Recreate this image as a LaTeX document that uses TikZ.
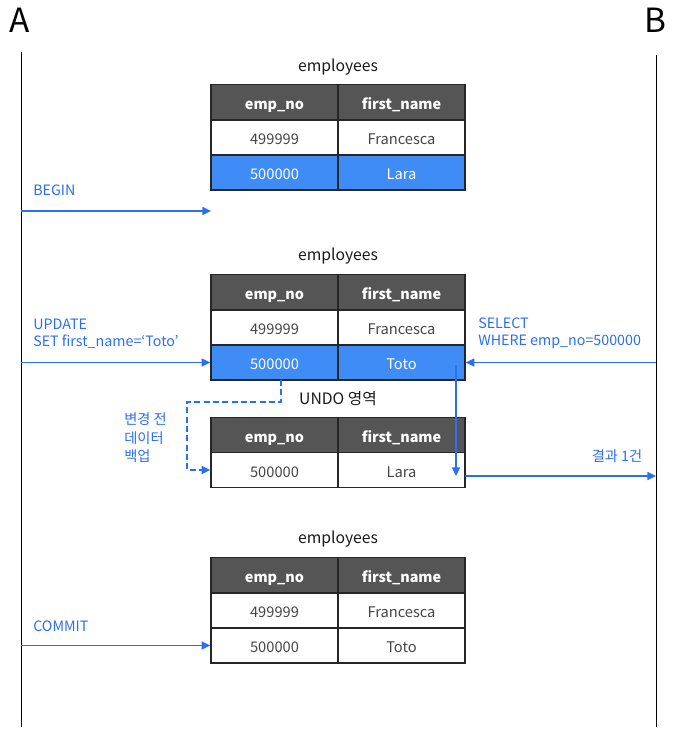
\documentclass[tikz,border=0pt]{standalone}
\usepackage{fontspec}
\setmainfont{Noto Sans CJK KR}
\usetikzlibrary{arrows.meta}
\definecolor{hdr}{HTML}{555555}
\definecolor{hl}{HTML}{408CF6}
\definecolor{flow}{HTML}{2A6FF3}
\definecolor{txt}{HTML}{454545}

\tikzset{
  cell/.style={draw=black!85, line width=1pt, minimum width=95.25pt, minimum height=26.25pt,
    inner sep=0pt, text height=2ex, text depth=0ex,
    font=\fontsize{11}{12}\selectfont, text=txt},
  head/.style={cell, fill=hdr, text=white, font=\fontsize{10.8}{12}\selectfont\bfseries},
  hot/.style={cell, fill=hl, text=white},
  title/.style={font=\fontsize{11.8}{14}\selectfont, text=black!90},
  lbl/.style={font=\fontsize{10.7}{12.75}\selectfont, text=flow, align=left, inner sep=0pt},
  party/.style={font=\fontsize{25}{28}\selectfont, text=black, inner sep=0pt},
  lifeline/.style={draw=black, line width=0.75pt},
  flowarrow/.style={draw=flow, line width=1.2pt, -{Triangle[length=6.5pt,width=6pt]}},
  backup/.style={draw=flow, line width=1.2pt, dash pattern=on 4.5pt off 2.5pt,
    -{Triangle[length=6.5pt,width=6pt]}},
}

\begin{document}
\begin{tikzpicture}[x=0.75pt,y=-0.75pt]
  \useasboundingbox (0,0) rectangle (678,732);

  % participants and their lifelines
  \node[party] (A) at (20,20) {A};
  \node[party] (B) at (655,20) {B};
  \coordinate (Atop) at (21,52);
  \coordinate (Abot) at (21,727);
  \coordinate (Btop) at (656,55);
  \coordinate (Bbot) at (656,727);
  \draw[lifeline] (Atop) -- (Abot);
  \draw[lifeline] (Btop) -- (Bbot);

  % table before the transaction
  \node[title] (t1) at (338,67) {employees};
  \node[head] (t1h1) at (274.5,102) {emp\_no};
  \node[head] (t1h2) at (401.5,102) {first\_name};
  \node[cell] (t1a1) at (274.5,137.5) {499999};
  \node[cell] (t1a2) at (401.5,137.5) {Francesca};
  \node[hot]  (t1b1) at (274.5,172.5) {500000};
  \node[hot]  (t1b2) at (401.5,172.5) {Lara};

  % BEGIN
  \node[lbl, anchor=west] (lbegin) at (33,190) {BEGIN};
  \coordinate (bs) at (21,211);
  \coordinate (be) at (211,211);
  \draw[flowarrow] (bs) -- (be);

  % table after the update
  \node[title] (t2) at (338,256) {employees};
  \node[head] (t2h1) at (274.5,292) {emp\_no};
  \node[head] (t2h2) at (401.5,292) {first\_name};
  \node[cell] (t2a1) at (274.5,327.5) {499999};
  \node[cell] (t2a2) at (401.5,327.5) {Francesca};
  \node[hot]  (t2b1) at (274.5,362.5) {500000};
  \node[hot]  (t2b2) at (401.5,362.5) {Toto};

  % UPDATE from A
  \node[lbl, anchor=west] (lupd) at (33,333.5) {UPDATE\\SET first\_name=‘Toto’};
  \coordinate (us) at (21,362.5);
  \draw[flowarrow] (us) -- (t2b1.west);

  % SELECT from B
  \node[lbl, anchor=west] (lsel) at (478,333.5) {SELECT\\WHERE emp\_no=500000};
  \coordinate (ss) at (656,362.5);
  \draw[flowarrow] (ss) -- (t2b2.east);

  % undo area
  \node[title] (undo) at (338,399) {UNDO 영역};
  \node[head] (u1h1) at (274.5,435) {emp\_no};
  \node[head] (u1h2) at (401.5,435) {first\_name};
  \node[cell] (u1b1) at (274.5,470) {500000};
  \node[cell] (u1b2) at (401.5,470) {Lara};

  % backup of the old row
  \node[lbl, anchor=west, font=\fontsize{10.7}{13.9}\selectfont] (lbak) at (124,438) {변경 전\\데이터\\백업};
  \coordinate (ds) at (281,380);
  \coordinate (dk) at (187,402);
  \draw[backup] (ds) |- (dk) |- (u1b1.west);

  % read served from the undo area
  \coordinate (rs) at (456,365);
  \coordinate (re) at (456,476);
  \draw[flowarrow] (rs) -- (re);
  \coordinate (os) at (465,476);
  \coordinate (oe) at (656,476);
  \draw[flowarrow] (os) -- (oe);
  \node[lbl] (lres) at (617,456) {결과 1건};

  % table after commit
  \node[title] (t3) at (338,539) {employees};
  \node[head] (t3h1) at (274.5,575) {emp\_no};
  \node[head] (t3h2) at (401.5,575) {first\_name};
  \node[cell] (t3a1) at (274.5,610.5) {499999};
  \node[cell] (t3a2) at (401.5,610.5) {Francesca};
  \node[cell] (t3b1) at (274.5,645.5) {500000};
  \node[cell] (t3b2) at (401.5,645.5) {Toto};

  % COMMIT
  \node[lbl, anchor=west] (lcom) at (33,626) {COMMIT};
  \coordinate (cs) at (21,645.5);
  \draw[flowarrow] (cs) -- (t3b1.west);
\end{tikzpicture}
\end{document}
